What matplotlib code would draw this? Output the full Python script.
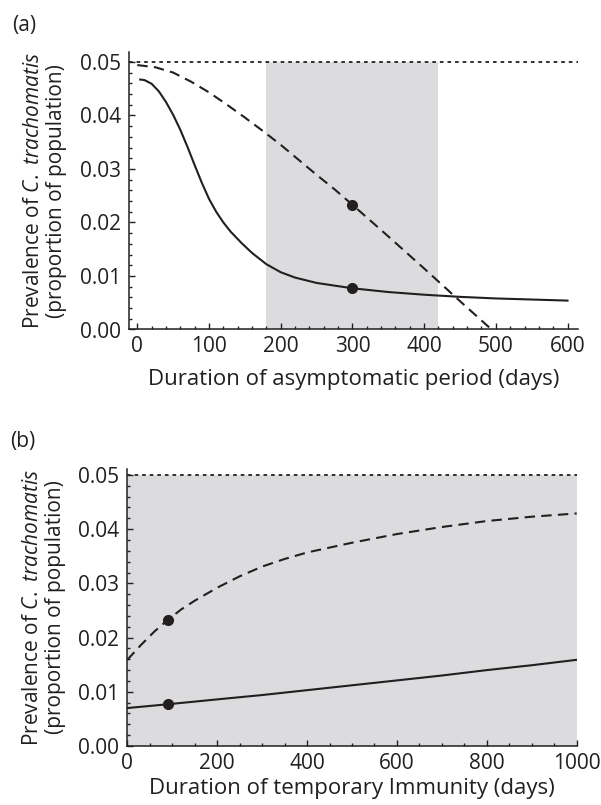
import numpy as np
import matplotlib
matplotlib.use('Agg')
import matplotlib.pyplot as plt
from matplotlib.ticker import MultipleLocator

plt.rcParams['font.family'] = ['Open Sans', 'DejaVu Sans']
plt.rcParams['mathtext.fontset'] = 'custom'
plt.rcParams['mathtext.rm'] = 'Open Sans'
plt.rcParams['mathtext.it'] = 'Open Sans:italic'

ink = '#231f20'
shade = '#dcdcde'

# panel (a): duration of asymptomatic period (days)
a_solid_x = [4, 10, 20, 30, 40, 50, 60, 70, 80, 90, 100, 110, 120, 130, 145, 160, 180,
             200, 220, 250, 300, 350, 400, 450, 500, 550, 600]
a_solid_y = [0.0467, 0.0466, 0.0459, 0.0445, 0.0425, 0.0401, 0.0373, 0.0341, 0.0307, 0.0274,
             0.0244, 0.0220, 0.0200, 0.0183, 0.0162, 0.0143, 0.0122, 0.0107, 0.0097, 0.0087,
             0.0077, 0.0070, 0.0065, 0.0061, 0.0058, 0.0056, 0.0054]
a_dash_x = [0, 25, 50, 75, 100, 125, 150, 175, 200, 225, 250, 275, 300, 350, 400, 450, 494]
a_dash_y = [0.0494, 0.0490, 0.0480, 0.0463, 0.0443, 0.0420, 0.0396, 0.0371, 0.0345, 0.0317,
            0.0289, 0.0262, 0.0233, 0.0174, 0.0114, 0.0053, 0.0]
a_points_x = [300, 300]
a_points_y = [0.0233, 0.0077]
a_band = (180, 420)

# panel (b): duration of temporary immunity (days)
b_solid_x = [0, 90, 200, 300, 400, 500, 600, 700, 800, 900, 1000]
b_solid_y = [0.0070, 0.0077, 0.0086, 0.0094, 0.0103, 0.0112, 0.0121, 0.0130, 0.0140, 0.0149, 0.0159]
b_dash_x = [0, 30, 60, 90, 120, 150, 200, 250, 300, 350, 400, 500, 600, 700, 800, 900, 1000]
b_dash_y = [0.0159, 0.0186, 0.0211, 0.02325, 0.0252, 0.0268, 0.0292, 0.0313, 0.0331, 0.0345,
            0.0357, 0.0375, 0.0391, 0.0404, 0.0415, 0.0423, 0.0429]
b_points_x = [90, 90]
b_points_y = [0.02325, 0.0077]
b_band = (0, 1000)

max_prev = 0.05

ylab = 'Prevalence of $\\it{C.\\ trachomatis}$\n(proportion of population)'

fig = plt.figure(figsize=(6.01, 8.05), dpi=100)
ax1 = fig.add_axes([129/601, 1 - 329.5/805, 449/601, 277.8/805])
ax2 = fig.add_axes([127.3/601, 1 - 746/805, 449.4/601, 277/805])

def style_axes(ax, xmaj, xmin, label_x):
    for s in ['top', 'right']:
        ax.spines[s].set_visible(False)
    for s in ['left', 'bottom']:
        ax.spines[s].set_linewidth(1.1)
        ax.spines[s].set_color(ink)
    ax.xaxis.set_major_locator(MultipleLocator(xmaj))
    ax.xaxis.set_minor_locator(MultipleLocator(xmin))
    ax.yaxis.set_major_locator(MultipleLocator(0.01))
    ax.yaxis.set_minor_locator(MultipleLocator(0.002))
    ax.tick_params(which='both', direction='in', colors=ink, labelsize=15, width=1.0)
    ax.tick_params(which='major', length=4.5)
    ax.tick_params(which='minor', length=2.5)
    ax.tick_params(axis='y', which='major', pad=6)
    ax.tick_params(axis='x', which='major', pad=5)
    ax.yaxis.set_major_formatter(plt.FormatStrFormatter('%.2f'))
    ax.set_ylabel(ylab, fontsize=15, color=ink, linespacing=1.1)
    ax.yaxis.set_label_coords(label_x, 0.5)

# panel (a)
ax1.axvspan(a_band[0], a_band[1], ymin=0, ymax=max_prev/0.0519, color=shade, lw=0, zorder=0)
ax1.axhline(max_prev, color=ink, lw=1.3, dashes=(2, 2.2), zorder=2)
ax1.plot(a_solid_x, a_solid_y, color=ink, lw=1.5, zorder=3)
ax1.plot(a_dash_x, a_dash_y, color=ink, lw=1.5, dashes=(5, 3), zorder=3)
ax1.plot(a_points_x, a_points_y, 'o', color=ink, ms=7, zorder=4)
ax1.set_xlim(-11.6, 614.6)
ax1.set_ylim(0, 0.0519)
style_axes(ax1, 100, 20, (67 - 129) / 449)
ax1.set_xlabel('Duration of asymptomatic period (days)', fontsize=16, color=ink, labelpad=8)

# panel (b)
ax2.axvspan(b_band[0], b_band[1], ymin=0, ymax=max_prev/0.0511, color=shade, lw=0, zorder=0)
ax2.axhline(max_prev, color=ink, lw=1.3, dashes=(2, 2.2), zorder=2)
ax2.plot(b_solid_x, b_solid_y, color=ink, lw=1.5, zorder=3)
ax2.plot(b_dash_x, b_dash_y, color=ink, lw=1.5, dashes=(5, 3), zorder=3)
ax2.plot(b_points_x, b_points_y, 'o', color=ink, ms=7, zorder=4)
ax2.set_xlim(0, 1000)
ax2.set_ylim(0, 0.0511)
style_axes(ax2, 200, 50, (66 - 127.3) / 449.4)
ax2.set_xlabel('Duration of temporary Immunity (days)', fontsize=16, color=ink, labelpad=3)

fig.text(12/601, 1 - 25/805, '(a)', fontsize=15, color=ink, va='center', ha='left')
fig.text(10/601, 1 - 441/805, '(b)', fontsize=15, color=ink, va='center', ha='left')

fig.savefig('out.png', dpi=100)
